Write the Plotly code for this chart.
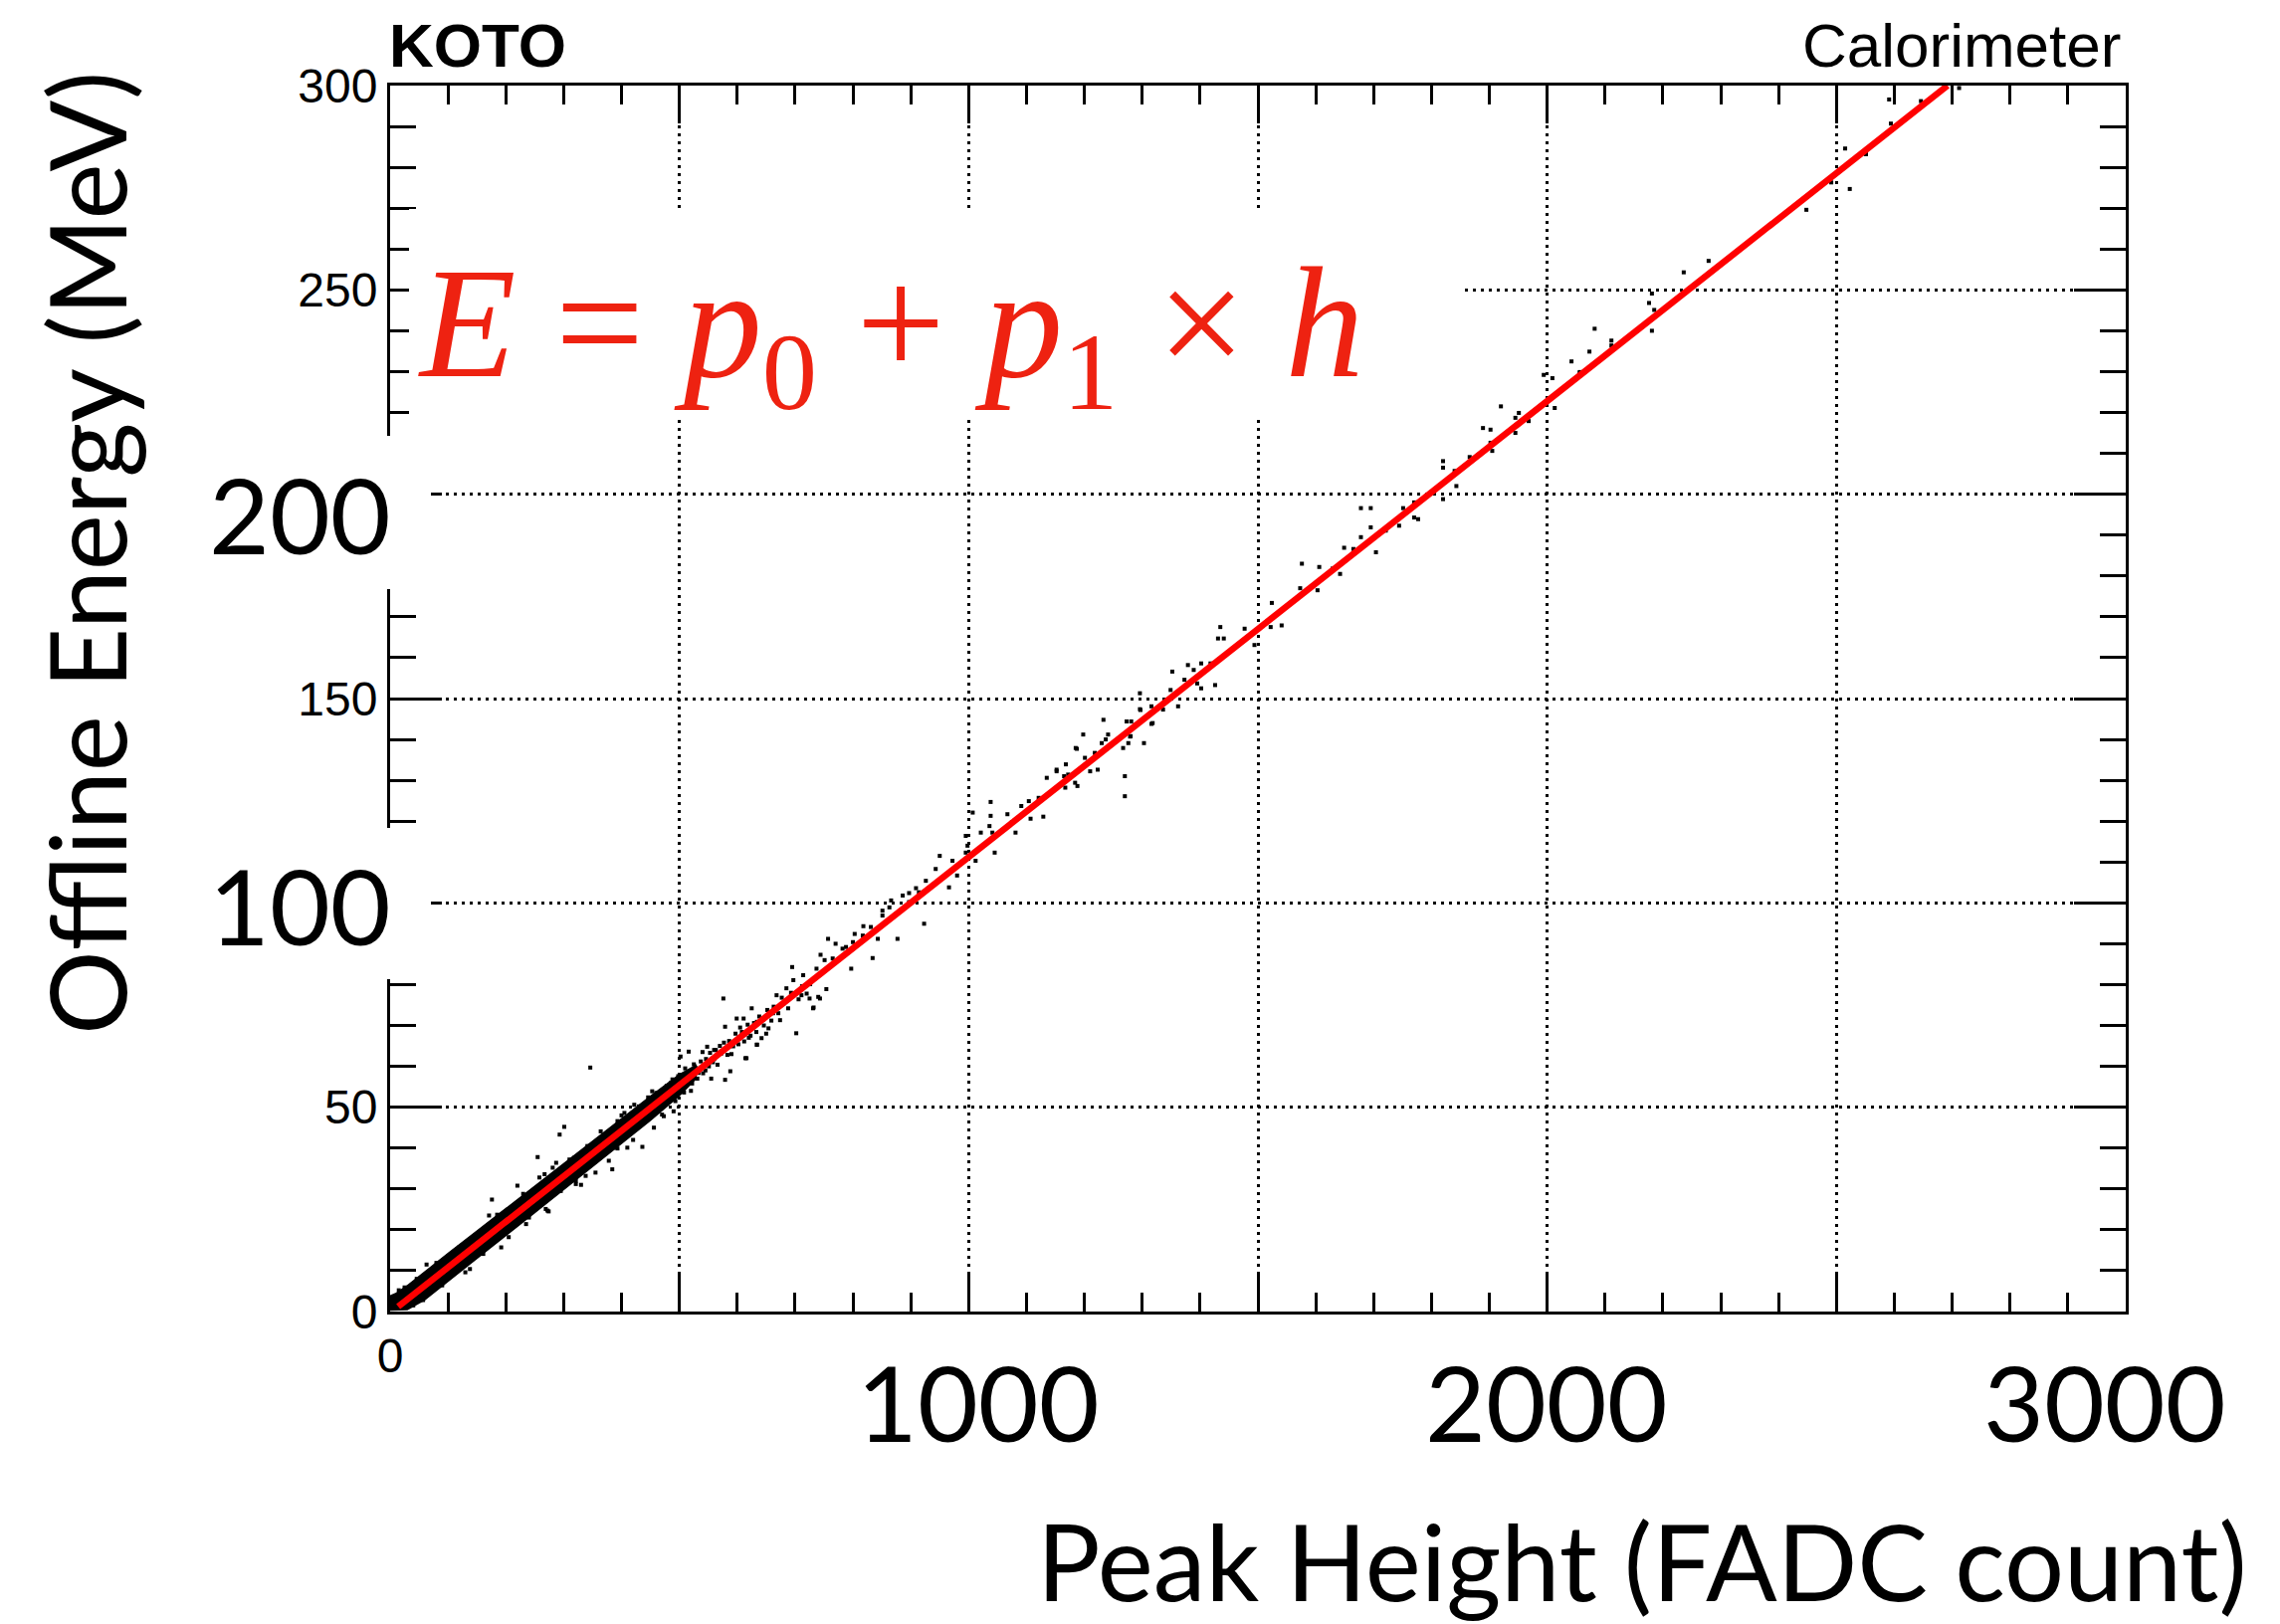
import plotly.graph_objects as go

# ---------------- data ----------------
x_tick_vals = [0, 500, 1000, 1500, 2000, 2500, 3000]
x_tick_text = ["0", "", "", "", "", "", ""]
y_tick_vals = [0, 50, 100, 150, 200, 250, 300]
y_tick_text = ["0", "50", "", "150", "", "250", "300"]
big_x_labels = ["1000", "2000", "3000"]
big_y_labels = ["200", "100"]

# dense core of the event distribution (edges of the solid black band)
band_h = [0, 10, 30, 60, 100, 150, 200, 250, 300, 350, 400, 450, 500, 530]
band_upper = [4.0, 4.6, 6.6, 10.0, 14.4, 19.9, 25.4, 31.0, 36.5, 42.0, 47.5, 52.9, 58.2, 60.6]
band_lower = [0.2, 0.2, 0.3, 2.7, 7.2, 12.8, 18.4, 24.0, 29.6, 35.2, 40.9, 46.6, 52.6, 56.9]

# individual events, low peak heights
low_h = [346, 255, 220, 176, 63, 138, 293, 301, 274, 321, 436, 576, 702, 731, 614, 634, 579, 588,
         516, 502, 548, 599, 579, 674, 662, 711, 725, 743, 533, 493, 490, 473, 456, 410, 424, 387,
         370, 338, 295, 272, 250, 267, 281, 318, 341, 364, 393, 422, 453, 485,
         171, 287, 393, 378, 355, 321, 269, 235, 192, 161, 57, 34, 46, 258, 327, 347, 361, 384, 410,
         15, 25, 40, 80, 90, 120, 130, 185, 205, 230, 240, 310, 330, 400, 420, 460, 470, 510, 520,
         540, 555, 560, 570, 590, 605, 620, 645, 650, 560, 545, 525,
         505, 508, 512, 518, 522, 528, 531, 537, 541, 546, 551, 553, 558, 563, 566, 572, 577, 583,
         586, 593, 597, 602, 608, 612, 618, 623, 629, 633, 638, 646, 652, 659, 663, 671, 677, 688,
         693, 706, 712, 726, 472, 478, 483, 488, 495, 498, 452, 446, 438, 430, 415, 405]
low_E = [59.7, 37.8, 30.8, 27.4, 11.5, 10.4, 43.3, 45.2, 24.5, 31.2, 40.3, 76.6, 68.1, 74.2, 62.0, 65.3, 56.7, 58.8,
         63.6, 62.4, 64.8, 71.7, 69.7, 71.3, 73.0, 77.4, 76.6, 76.6, 58.4, 51.5, 49.0, 47.8, 45.0, 43.3, 46.6, 40.1,
         39.3, 33.2, 29.5, 24.7, 27.1, 33.6, 35.2, 37.6, 40.5, 44.1, 46.6, 50.6, 53.9, 55.9,
         23.5, 36.4, 39.9, 36.9, 34.0, 32.0, 25.1, 21.4, 15.7, 14.1, 2.8, 5.2, 8.0, 32.8, 37.7, 36.4, 39.3, 34.8, 40.1,
         5.2, 5.9, 1.5, 11.9, 6.4, 15.8, 9.6, 23.7, 18.2, 28.8, 23.0, 37.2, 31.0, 48.0, 42.0, 53.5, 48.2, 59.5, 54.0,
         63.5, 57.0, 61.8, 65.0, 63.0, 69.5, 67.0, 71.5, 68.0, 64.0, 59.0, 60.5,
         57.5, 53.6, 56.0, 58.9, 55.8, 59.6, 57.0, 61.2, 58.3, 61.8, 60.0, 63.3, 61.0, 64.0, 60.4, 63.1, 65.8, 62.8,
         66.2, 64.9, 68.0, 65.4, 68.4, 66.1, 70.2, 67.5, 70.6, 68.4, 72.2, 70.0, 73.8, 71.2, 74.6, 73.0, 76.8, 74.2,
         78.0, 76.4, 79.6, 80.1, 51.0, 55.2, 52.4, 56.8, 53.0, 57.6, 48.0, 52.4, 46.4, 50.2, 44.8, 48.6]

# individual events, middle peak heights
mid_h = [611, 625, 634, 654, 634, 616, 642, 657, 668, 685, 697, 714, 720, 740, 737, 751, 765, 782, 800, 817,
         843, 863, 851, 897, 914, 680, 695, 757, 770, 744, 788, 803, 818, 831, 851, 866, 886, 897, 909, 926,
         943, 950, 966, 980, 972, 995, 998, 1007, 995, 1012, 1021, 1038, 1041, 1045, 1036, 1038, 1067, 1075,
         1081, 1091, 1104, 1107, 1121, 1129, 1135, 1152, 1167, 1172, 1184, 1187, 1201, 1210, 1218, 1230, 1233,
         1241, 1267, 1270, 1270, 1276, 1279, 1281, 1296, 1296, 1303, 1316, 1198, 923, 877, 834, 797, 754, 732]
mid_E = [71.7, 74.2, 70.9, 69.3, 65.3, 62.0, 66.9, 73.0, 77.4, 79.1, 81.1, 82.3, 77.8, 77.0, 83.9, 86.0, 86.4, 88.8, 90.4, 92.0,
         91.2, 98.9, 96.9, 100.2, 102.6, 75.4, 84.3, 91.2, 90.0, 87.3, 89.2, 92.4, 94.3, 94.1, 98.1, 100.6, 101.8, 102.4, 103.6, 105.4,
         108.3, 111.5, 103.8, 106.7, 110.3, 116.4, 114.0, 122.1, 112.3, 110.3, 117.2, 124.7, 117.2, 112.3, 118.8, 121.3, 121.7, 119.8,
         117.2, 123.7, 124.9, 120.6, 125.7, 121.1, 130.6, 132.2, 128.2, 131.4, 129.4, 137.7, 135.5, 132.2, 136.7, 139.1, 144.8,
         141.2, 137.9, 131.0, 126.1, 139.1, 140.7, 144.4, 147.4, 151.3, 139.1, 143.8, 141.2, 94.9, 91.2, 86.5, 83.9, 78.9, 74.4]

# individual events, high peak heights
high_h = [1152, 1168, 1185, 1211, 1223, 1188, 1165, 1237, 1273, 1280, 1297, 1316, 1318, 1336, 1349, 1352, 1362,
          1373, 1379, 1389, 1402, 1395, 1402, 1418, 1426, 1435, 1441, 1431, 1477, 1494, 1522, 1541, 1524, 1576,
          1573, 1603, 1606, 1629, 1642, 1649, 1665, 1678, 1695, 1704, 1678, 1695, 1721, 1744, 1751, 1770, 1770,
          1777, 1820, 1820, 1840, 1820, 1843, 1866, 1889, 1902, 1902, 1905, 1920, 1945, 1951, 1945, 1968, 1994,
          2009, 2013, 2042, 2057, 2073, 2082, 2111, 2111, 2176, 2181, 2185, 2181, 2236, 2279, 2448, 2491, 2515,
          2523, 2551, 2594, 2591, 2646, 2712, 2056]
high_E = [132.6, 133.9, 137.9, 134.7, 132.6, 128.6, 131.0, 140.0, 144.4, 140.8, 147.2, 148.1, 144.0, 147.3, 152.1, 156.6, 148.1,
          154.6, 158.2, 157.0, 158.6, 153.7, 152.5, 158.6, 153.3, 167.5, 164.7, 164.7, 167.1, 163.1, 167.5, 167.9, 173.4, 183.0,
          177.0, 176.5, 182.2, 181.8, 180.5, 186.9, 186.6, 189.5, 191.9, 185.8, 196.6, 196.6, 191.1, 192.3, 196.6, 198.0, 194.3,
          193.9, 208.1, 206.5, 205.7, 198.8, 202.0, 209.1, 216.2, 215.8, 212.6, 210.6, 221.5, 218.7, 219.9, 215.0, 217.9, 229.2,
          228.4, 221.1, 232.5, 229.9, 234.9, 240.5, 237.6, 236.4, 246.8, 249.1, 245.1, 240.0, 254.3, 257.1, 269.6, 276.3, 284.6,
          274.7, 283.2, 290.7, 296.6, 296.2, 299.4, 229.8]

# linear fit E = p0 + p1*h, drawn between its end points
fit_h = [14, 2692]
fit_E = [1.2, 300.0]

# ---------------- layout helpers ----------------
OFF = 8                     # page body margin added by the browser
PAGE_W, PAGE_H = 2291, 1632
L, R, T, B = 392, 2136, 86, 1318   # plot area in page pixels


def pxx(x):
    return (x - L) / (R - L)


def pxy(y):
    return (B - y) / (B - T)


ev_h = low_h + mid_h + high_h
ev_E = low_E + mid_E + high_E

fig = go.Figure()
fig.add_trace(go.Scatter(
    x=band_h + band_h[::-1], y=band_upper + band_lower[::-1],
    mode="lines", fill="toself", fillcolor="black", line=dict(width=0),
    hoverinfo="skip"))
fig.add_trace(go.Scatter(
    x=ev_h, y=ev_E, mode="markers",
    marker=dict(symbol="square", size=4, color="black", line=dict(width=0))))
fig.add_trace(go.Scatter(
    x=fit_h, y=fit_E, mode="lines", line=dict(color="#ff0000", width=6.5)))

axis_common = dict(
    showline=True, linecolor="black", linewidth=3, mirror="ticks",
    ticks="inside", tickcolor="black", tickwidth=3,
    showgrid=True, gridcolor="black", gridwidth=2.7, griddash="3px,5px",
    zeroline=False,
    tickfont=dict(family="Liberation Sans, Arial, sans-serif", size=48, color="black"),
)

W, H = PAGE_W - OFF, PAGE_H - OFF
fig.update_layout(
    width=W, height=H,
    margin=dict(l=L - OFF, r=W - (R - OFF), t=T - OFF, b=H - (B - OFF), pad=0),
    paper_bgcolor="white", plot_bgcolor="white",
    showlegend=False,
    xaxis=dict(range=[0, 3000], tickmode="array", tickvals=x_tick_vals, ticktext=x_tick_text,
               ticklen=38, minor=dict(ticks="inside", tick0=0, dtick=100, ticklen=19,
                                       tickwidth=3, tickcolor="black", showgrid=False),
               **axis_common),
    yaxis=dict(range=[0, 300], tickmode="array", tickvals=y_tick_vals, ticktext=y_tick_text,
               ticklen=52, minor=dict(ticks="inside", tick0=0, dtick=10, ticklen=26,
                                       tickwidth=3, tickcolor="black", showgrid=False),
               **axis_common),
)

# white boxes that hide grid / axis behind the overlaid labels
boxes = [(411, 210, 1467, 422), (220, 438, 433, 592), (220, 832, 433, 984)]
for (x0, y0, x1, y1) in boxes:
    fig.add_shape(type="rect", xref="paper", yref="paper",
                  x0=pxx(x0), x1=pxx(x1), y0=pxy(y1), y1=pxy(y0),
                  fillcolor="white", line=dict(width=0), layer="above")

big_font = dict(family="Lato, Open Sans, sans-serif", size=105, color="black")
annos = []
annos.append(dict(text="<b>KOTO</b>", x=pxx(389), y=pxy(46), xanchor="left", yanchor="middle",
                  font=dict(family="Liberation Sans, Arial, sans-serif", size=62, color="black")))
annos.append(dict(text="Calorimeter", x=pxx(2133), y=pxy(46), xanchor="right", yanchor="middle",
                  font=dict(family="Liberation Sans, Arial, sans-serif", size=62, color="black")))
annos.append(dict(text="<i>E</i> = <i>p</i><sub>0</sub> + <i>p</i><sub>1</sub> × <i>h</i>",
                  x=pxx(418), y=pxy(336), xanchor="left", yanchor="middle",
                  font=dict(family="Liberation Serif, Times New Roman, serif", size=158, color="#ee2211")))
for lab, xc in zip(big_x_labels, [983, 1554, 2115]):
    annos.append(dict(text=lab, x=pxx(xc), y=pxy(1408), xanchor="center", yanchor="middle", font=big_font))
for lab, yc in zip(big_y_labels, [516, 909]):
    annos.append(dict(text=lab, x=pxx(395), y=pxy(yc), xanchor="right", yanchor="middle", font=big_font))
annos.append(dict(text="Peak Height (FADC count)", x=pxx(2260), y=pxy(1568), xanchor="right",
                  yanchor="middle", font=dict(family="Lato, Open Sans, sans-serif", size=106, color="black")))
annos.append(dict(text="Offline Energy (MeV)", textangle=-90, x=pxx(86), y=pxy(556), xanchor="center",
                  yanchor="middle", font=dict(family="Lato, Open Sans, sans-serif", size=106, color="black")))
for a in annos:
    a.update(xref="paper", yref="paper", showarrow=False)
fig.update_layout(annotations=annos)

fig.write_html("out.html")
